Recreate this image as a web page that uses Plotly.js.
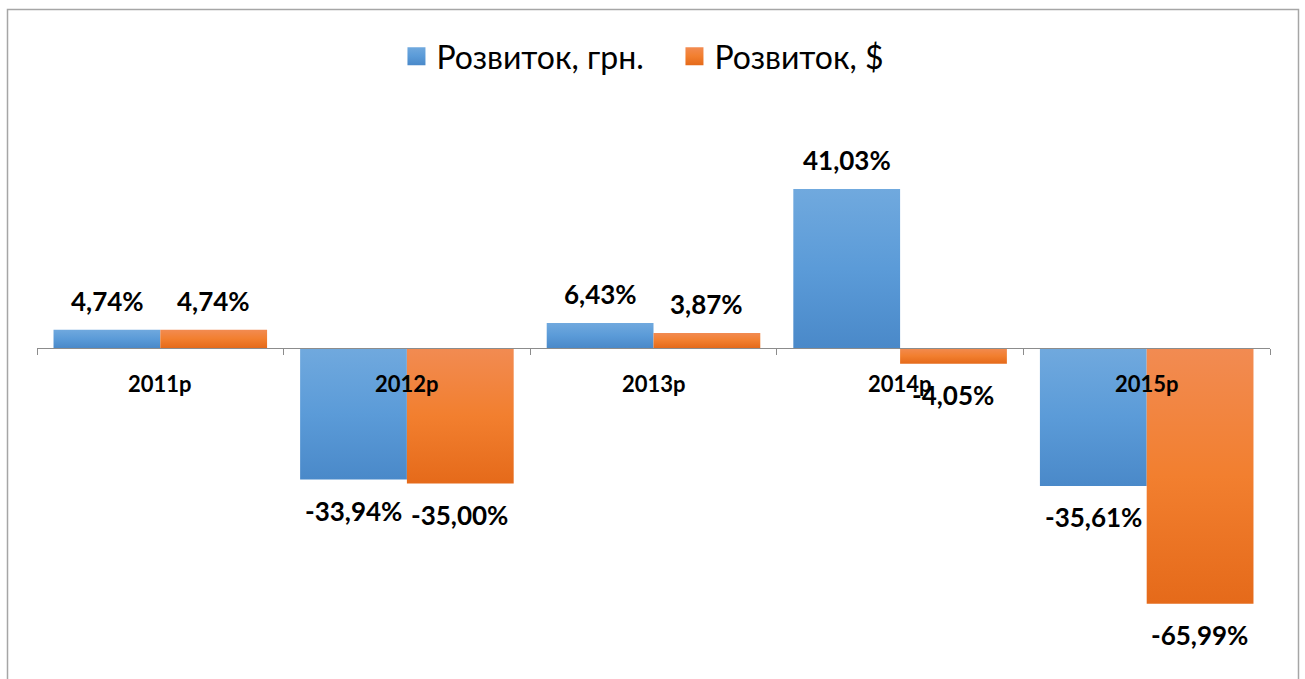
<!DOCTYPE html>
<html><head><meta charset="utf-8">
<script src="https://cdn.plot.ly/plotly-3.0.1.min.js"></script>
<style>html,body{margin:0;padding:0;background:#fff;}#chart{width:1305px;height:679px;}</style>
</head><body><div id="chart"></div>
<script>
const categories = ['2011р', '2012р', '2013р', '2014р', '2015р'];
const seriesNames = ['Розвиток, грн.', 'Розвиток, $'];
const uah = [4.74, -33.94, 6.43, 41.03, -35.61];
const usd = [4.74, -35.00, 3.87, -4.05, -65.99];
const labelsUah = ['4,74%', '-33,94%', '6,43%', '41,03%', '-35,61%'];
const labelsUsd = ['4,74%', '-35,00%', '3,87%', '-4,05%', '-65,99%'];

const yMin = -77.42, yMax = 64.0;
const FONT = 'Lato, "Open Sans", sans-serif';

const traces = [
  {type:'bar', name:seriesNames[0], x:categories, y:uah, marker:{color:'#5b9bd8'}, hoverinfo:'none'},
  {type:'bar', name:seriesNames[1], x:categories, y:usd, marker:{color:'#f27f2f'}, hoverinfo:'none'}
];

const annotations = [];
[[uah, labelsUah, -53], [usd, labelsUsd, 53]].forEach(([vals, labs, dx]) => {
  vals.forEach((v, i) => {
    annotations.push({x:categories[i], y:v, xref:'x', yref:'y', text:'<b>'+labs[i]+'</b>',
      showarrow:false, xshift:dx, yshift: v >= 0 ? 29 : -31,
      font:{family:FONT, size:26, color:'#000'}});
  });
});
categories.forEach(c => {
  annotations.push({x:c, y:0, xref:'x', yref:'y', text:'<b>'+c+'</b>', showarrow:false,
    yshift:-35, font:{family:FONT, size:22, color:'#000'}});
});

const layout = {
  width:1305, height:679,
  margin:{l:37, r:35, t:100, b:31},
  paper_bgcolor:'#fff', plot_bgcolor:'#fff',
  font:{family:FONT},
  barmode:'group', bargap:0.134, bargroupgap:0,
  showlegend:true,
  legend:{orientation:'h', x:0.517, xanchor:'center', y:0.917, yref:'container', yanchor:'middle',
    font:{family:FONT, size:32, color:'#000'}, itemwidth:30, entrywidth:233, traceorder:'normal'},
  xaxis:{type:'category', anchor:'free', position:(0 - yMin)/(yMax - yMin),
    showline:true, linecolor:'#8c8c8c', linewidth:1.5, ticks:'outside', tickson:'boundaries',
    ticklen:6, tickcolor:'#8c8c8c', showticklabels:false, showgrid:false, zeroline:false, fixedrange:true},
  yaxis:{range:[yMin, yMax], visible:false, showgrid:false, zeroline:false, fixedrange:true},
  annotations:annotations,
  shapes:[{type:'rect', xref:'paper', yref:'paper', x0:(7.5-37)/1233, x1:(1298.5-37)/1233, y0:-40/548, y1:1+90.5/548,
    line:{color:'#a6a6a6', width:1.5}, fillcolor:'rgba(0,0,0,0)'}]
};

function decorate(gd){
  const svg = gd.querySelector('svg.main-svg');
  if (!svg) return;
  const ns = 'http://www.w3.org/2000/svg';
  let defs = svg.querySelector('defs');
  if (!defs) { defs = document.createElementNS(ns, 'defs'); svg.insertBefore(defs, svg.firstChild); }
  const grads = {gBlue:['#70a9de','#5b9bd8','#4a89c9'], gOrange:['#f28b52','#f27f2f','#e56a1a']};
  Object.entries(grads).forEach(([id, cols]) => {
    if (svg.querySelector('#'+id)) return;
    const lg = document.createElementNS(ns, 'linearGradient');
    lg.setAttribute('id', id); lg.setAttribute('x1','0'); lg.setAttribute('y1','0');
    lg.setAttribute('x2','0'); lg.setAttribute('y2','1');
    cols.forEach((c, k) => {
      const st = document.createElementNS(ns, 'stop');
      st.setAttribute('offset', (k*50)+'%'); st.setAttribute('stop-color', c);
      lg.appendChild(st);
    });
    defs.appendChild(lg);
  });
  const ids = ['gBlue','gOrange'];
  gd.querySelectorAll('.barlayer .trace').forEach((tr, i) => {
    tr.querySelectorAll('path').forEach(p => { p.style.fill = 'url(#'+ids[i]+')'; });
  });
  gd.querySelectorAll('.legend .traces').forEach((tr, i) => {
    tr.querySelectorAll('.legendpoints path').forEach(p => {
      p.setAttribute('d', 'M9,9H-9V-9H9Z');
      p.style.fill = 'url(#'+ids[i]+')';
    });
  });
}
Plotly.newPlot('chart', traces, layout, {staticPlot:true}).then(decorate);
</script></body></html>
